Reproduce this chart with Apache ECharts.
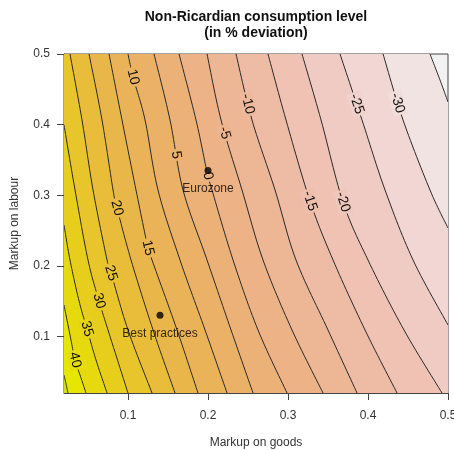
<!DOCTYPE html>
<html><head><meta charset="utf-8">
<script src="https://cdn.jsdelivr.net/npm/echarts@6/dist/echarts.min.js"></script>
<style>html,body{margin:0;padding:0;background:#fff}#c{width:454px;height:450px}</style>
</head><body><div id="c"></div>
<script>
// ---- data ----
const levels = [45, 40, 35, 30, 25, 20, 15, 10, 5, 0, -5, -10, -15, -20, -25, -30, -35];
const line_45  = [[0.02,0.0455],[0.0225,0.033],[0.025,0.02]];
const line_40  = [[0.02,0.1446],[0.0275,0.1021],[0.0338,0.0667],[0.04,0.0455],[0.0475,0.02]];
const line_35  = [[0.02,0.2579],[0.0275,0.2083],[0.0388,0.1503],[0.0488,0.1106],[0.06,0.0667],[0.0738,0.02]];
const line_30  = [[0.02,0.3995],[0.0338,0.3074],[0.05,0.2083],[0.0638,0.1503],[0.075,0.1092],[0.1,0.02]];
const line_25  = [[0.0275,0.5],[0.0425,0.4066],[0.0563,0.3074],[0.0738,0.2083],[0.0788,0.1899],[0.1,0.1092],[0.13,0.02]];
const line_20  = [[0.0513,0.5],[0.0675,0.4066],[0.0813,0.3074],[0.0863,0.2819],[0.1038,0.2083],[0.1313,0.1092],[0.1588,0.02]];
const line_15  = [[0.0763,0.5],[0.0925,0.4066],[0.11,0.3074],[0.125,0.2253],[0.13,0.2083],[0.1613,0.1092],[0.1875,0.02]];
const line_10  = [[0.1,0.5],[0.1063,0.4674],[0.1213,0.4066],[0.1375,0.3074],[0.165,0.2083],[0.1963,0.1092],[0.2238,0.02]];
const line_5   = [[0.1325,0.5],[0.1525,0.4066],[0.1688,0.3074],[0.1988,0.2083],[0.2288,0.1092],[0.2563,0.02]];
const line_0   = [[0.1638,0.5],[0.185,0.4066],[0.1988,0.3329],[0.205,0.3074],[0.2313,0.2083],[0.2625,0.1092],[0.2988,0.02]];
const line_m5  = [[0.1988,0.5],[0.2163,0.4066],[0.2425,0.3074],[0.2688,0.2083],[0.305,0.1092],[0.3438,0.02]];
const line_m10 = [[0.235,0.5],[0.255,0.4066],[0.2838,0.3074],[0.31,0.2083],[0.35,0.1092],[0.3863,0.02]];
const line_m15 = [[0.275,0.5],[0.2975,0.4066],[0.3275,0.2919],[0.3563,0.2083],[0.3963,0.1092],[0.4363,0.02]];
const line_m20 = [[0.3175,0.5],[0.3413,0.4066],[0.3688,0.2904],[0.4,0.2083],[0.445,0.1092],[0.4925,0.02]];
const line_m25 = [[0.365,0.5],[0.3925,0.4066],[0.4213,0.3074],[0.4563,0.2083],[0.5,0.1163]];
const line_m30 = [[0.4188,0.5],[0.4438,0.4066],[0.4775,0.3074],[0.5,0.2536]];
const line_m35 = [[0.4775,0.5],[0.49,0.4632],[0.5,0.432]];
const contourLines = [line_45,line_40,line_35,line_30,line_25,line_20,line_15,line_10,line_5,line_0,
                      line_m5,line_m10,line_m15,line_m20,line_m25,line_m30,line_m35];
// y value at which each contour carries its label (null = unlabeled)
const labelY = [null,0.0667,0.1106,0.1503,0.1899,0.2819,0.2253,0.4674,0.3570,0.3273,0.3881,0.4292,0.2919,0.2904,0.4292,0.4306,null];
const xTicks = [0.1, 0.2, 0.3, 0.4, 0.5];
const yTicks = [0.1, 0.2, 0.3, 0.4, 0.5];
const pointNames = ['Eurozone', 'Best practices'];
const pointX = [0.2, 0.14];
const pointY = [0.335, 0.13];
const X0 = 0.02, X1 = 0.5, Y0 = 0.02, Y1 = 0.5;

// ---- palette (terrain-like, yellow -> light grey) ----
function hsv(h, s, v) {
  const c = v * s, hp = h / 60, x = c * (1 - Math.abs(hp % 2 - 1)), m = v - c;
  let r, g, b;
  if (hp < 1) { r = c; g = x; b = 0; } else { r = x; g = c; b = 0; }
  const f = t => Math.round((t + m) * 255);
  return 'rgb(' + f(r) + ',' + f(g) + ',' + f(b) + ')';
}
function bandColor(j) {
  if (j < 0) return hsv(60 + 4 * (-j), 1, 0.9 - (0.25 / 15) * (-j));
  return hsv(60 * (1 - j / 16), 1 - j / 16, 0.9 + 0.05 * j / 16);
}
const FONT = '"Liberation Sans", Arial, sans-serif';

function crSmooth(pts) {
  if (pts.length < 3) return pts.slice();
  const out = [], N = 14;
  for (let i = 0; i < pts.length - 1; i++) {
    const p0 = pts[Math.max(i - 1, 0)], p1 = pts[i], p2 = pts[i + 1], p3 = pts[Math.min(i + 2, pts.length - 1)];
    for (let k = 0; k < N; k++) {
      const t = k / N, t2 = t * t, t3 = t2 * t;
      const q = d => 0.5 * (2 * p1[d] + (-p0[d] + p2[d]) * t + (2 * p0[d] - 5 * p1[d] + 4 * p2[d] - p3[d]) * t2 + (-p0[d] + 3 * p1[d] - 3 * p2[d] + p3[d]) * t3);
      out.push([q(0), q(1)]);
    }
  }
  out.push(pts[pts.length - 1]);
  return out;
}

const fillOrder = levels.map((L, i) => [i]).reverse();
const lineOrder = levels.map((L, i) => [i]);

const chart = echarts.init(document.getElementById('c'), null, {renderer: 'canvas'});
chart.setOption({
  animation: false,
  grid: {left: 64, right: 6, top: 54, bottom: 57, containLabel: false, outerBoundsMode: 'none',
         show: true, backgroundColor: bandColor(16), borderColor: '#444', borderWidth: 1},
  xAxis: {
    type: 'value', min: X0, max: X1,
    name: 'Markup on goods', nameLocation: 'middle', nameGap: 44,
    nameTextStyle: {fontFamily: FONT, fontSize: 12, color: '#333'},
    axisLine: {show: true, lineStyle: {color: '#444'}},
    axisTick: {show: true, customValues: xTicks, length: 7, lineStyle: {color: '#444'}},
    axisLabel: {customValues: xTicks, showMaxLabel: true, margin: 17, fontFamily: FONT, fontSize: 12, color: '#333', formatter: v => String(v)},
    splitLine: {show: false}
  },
  yAxis: {
    type: 'value', min: Y0, max: Y1,
    name: 'Markup on labour', nameLocation: 'middle', nameGap: 43,
    nameTextStyle: {fontFamily: FONT, fontSize: 12, color: '#333'},
    axisLine: {show: true, lineStyle: {color: '#444'}},
    axisTick: {show: true, customValues: yTicks, length: 7, lineStyle: {color: '#444'}},
    axisLabel: {customValues: yTicks, showMaxLabel: true, margin: 14, fontFamily: FONT, fontSize: 12, color: '#333', formatter: v => String(v)},
    splitLine: {show: false}
  },
  graphic: [
    {type: 'text', x: 256, y: 17, style: {text: 'Non-Ricardian consumption level', font: 'bold 14px ' + FONT, fill: '#111', align: 'center', verticalAlign: 'middle', textAlign: 'center', textVerticalAlign: 'middle'}},
    {type: 'text', x: 256, y: 33, style: {text: '(in % deviation)', font: 'bold 14px ' + FONT, fill: '#111', align: 'center', verticalAlign: 'middle', textAlign: 'center', textVerticalAlign: 'middle'}}
  ],
  series: [
    {
      type: 'custom', coordinateSystem: 'cartesian2d', data: fillOrder, clip: true, z: 1, silent: true,
      encode: {x: [], y: []},
      renderItem(params, api) {
        const i = api.value(0);
        const line = contourLines[i];
        const pts = crSmooth(line.map(p => api.coord(p)));
        const first = line[0], last = line[line.length - 1];
        if (last[0] >= X1 - 1e-9) pts.push(api.coord([X1, Y0]));
        pts.push(api.coord([X0, Y0]));
        if (first[1] >= Y1 - 1e-9) pts.push(api.coord([X0, Y1]));
        return {type: 'polygon', shape: {points: pts}, style: {fill: bandColor(i - 1), stroke: bandColor(i - 1), lineWidth: 0.5}};
      }
    },
    {
      type: 'custom', coordinateSystem: 'cartesian2d', data: lineOrder, clip: true, z: 2, silent: true,
      encode: {x: [], y: []},
      renderItem(params, api) {
        const i = api.value(0);
        const pts = crSmooth(contourLines[i].map(p => api.coord(p)));
        const children = [{type: 'polyline', shape: {points: pts}, style: {stroke: '#2a2a2a', lineWidth: 1, fill: null}}];
        if (labelY[i] != null) {
          const ty = api.coord([X0, labelY[i]])[1];
          for (let k = 0; k < pts.length - 1; k++) {
            const a = pts[k], b = pts[k + 1];
            if ((a[1] - ty) * (b[1] - ty) <= 0 && a[1] !== b[1]) {
              const t = (ty - a[1]) / (b[1] - a[1]);
              const x = a[0] + t * (b[0] - a[0]);
              const ang = Math.atan2(b[1] - a[1], b[0] - a[0]);
              children.push({
                type: 'text', x: x, y: ty, rotation: -ang, z2: 5,
                style: {text: String(levels[i]), font: '14px ' + FONT, fill: '#111',
                        align: 'center', verticalAlign: 'middle', textAlign: 'center', textVerticalAlign: 'middle',
                        backgroundColor: bandColor(i - 0.5), padding: [0, 2]}
              });
              break;
            }
          }
        }
        return {type: 'group', children: children};
      }
    },
    {
      type: 'scatter', z: 5, symbol: 'circle', symbolSize: 7,
      itemStyle: {color: '#000'},
      data: pointNames.map((n, k) => ({name: n, value: [pointX[k], pointY[k]]})),
      label: {show: true, position: 'bottom', distance: 9, formatter: '{b}', color: '#000', fontFamily: FONT, fontSize: 12}
    }
  ]
});
</script>
</body></html>
